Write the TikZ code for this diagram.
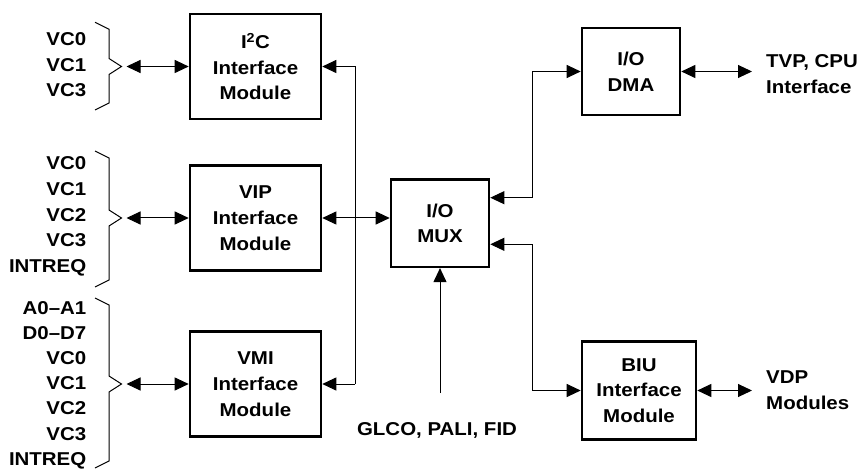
\documentclass[tikz,border=0pt]{standalone}
\usepackage{fontspec}
\setmainfont{Liberation Sans}[FakeStretch=1.1]
\usetikzlibrary{arrows.meta}
\newcommand\sigbrace[4]{%
  \draw[line width=1pt] (95,#1) -- (109,#1+7) -- (109,#2-8) -- (121.5,#2)
    -- (109,#2+8) -- (109,#3-7) -- (95,#3);
  \coordinate (#4) at (121.5,#2);}

\begin{document}
\begin{tikzpicture}[x=1pt,y=-1pt,inner sep=0pt,
  font=\fontsize{18.6}{25.7}\selectfont\bfseries,
  mod/.style={draw,line width=2.6pt,align=center,minimum width=131pt,minimum height=105pt},
  sig/.style={align=right,anchor=east},
  ext/.style={align=left,anchor=west},
  tip/.style={line width=1pt,-{Triangle[length=14pt,width=13pt]}},
  dtip/.style={line width=1pt,{Triangle[length=14pt,width=13pt]}-{Triangle[length=14pt,width=13pt]}}]
\useasboundingbox (0,0) rectangle (861,470);

\node[mod] (i2c) at (255.5,66.5) {I\textsuperscript{2}C\\Interface\\Module};
\node[mod] (vip) at (255.5,218) {VIP\\Interface\\Module};
\node[mod] (vmi) at (255.5,384) {VMI\\Interface\\Module};
\node[mod,minimum width=98pt,minimum height=87pt] (mux) at (440,223.3) {I/O\\MUX};
\node[mod,minimum width=98pt,minimum height=87pt] (dma) at (631,71.5) {I/O\\DMA};
\node[mod,minimum width=114pt,minimum height=98pt] (biu) at (639,390.5) {BIU\\Interface\\Module};

\node[sig] (i2cin) at (86.5,64.7) {VC0\\VC1\\VC3};
\node[sig] (vipin) at (86.5,216.5) {VC0\\VC1\\VC2\\VC3\\INTREQ};
\node[sig,font=\fontsize{18.6}{25.2}\selectfont\bfseries] (vmiin) at (86.5,385) {A0--A1\\D0--D7\\VC0\\VC1\\VC2\\VC3\\INTREQ};
\node[ext] (tvp) at (766,74.3) {TVP, CPU\\Interface};
\node[ext] (vdp) at (766,390) {VDP\\Modules};
\node (glco) at (437,430.7) {GLCO, PALI, FID};

\sigbrace{22.3}{66.5}{110}{i2ctip}
\sigbrace{151}{218}{287}{viptip}
\sigbrace{298}{384}{468}{vmitip}

\draw[dtip,shorten <=5pt] (i2ctip) -- (i2c);
\draw[dtip,shorten <=5pt] (viptip) -- (vip);
\draw[dtip,shorten <=5pt] (vmitip) -- (vmi);

\coordinate (bt) at (355,66.5);
\coordinate (bb) at (355,384);
\draw[line width=1pt] (bt) -- (bb);
\draw[tip] (bt) -- (i2c);
\draw[tip] (bb) -- (vmi);
\draw[dtip] (vip.east) -- (vip.east -| mux.west);

\coordinate (jx) at (532.7,0);
\coordinate (m1) at ([yshift=25.6pt]mux.east);
\coordinate (m2) at ([yshift=-21pt]mux.east);
\draw[dtip] (m1) -- (m1 -| jx) |- (dma.west);
\draw[dtip] (m2) -- (m2 -| jx) |- (biu.west);

\coordinate (dmaout) at (752,71.5);
\coordinate (biuout) at (752,390.5);
\draw[dtip] (dma) -- (dmaout);
\draw[dtip] (biu) -- (biuout);

\coordinate (gl) at (440,393);
\draw[tip] (gl) -- (mux);
\end{tikzpicture}
\end{document}
